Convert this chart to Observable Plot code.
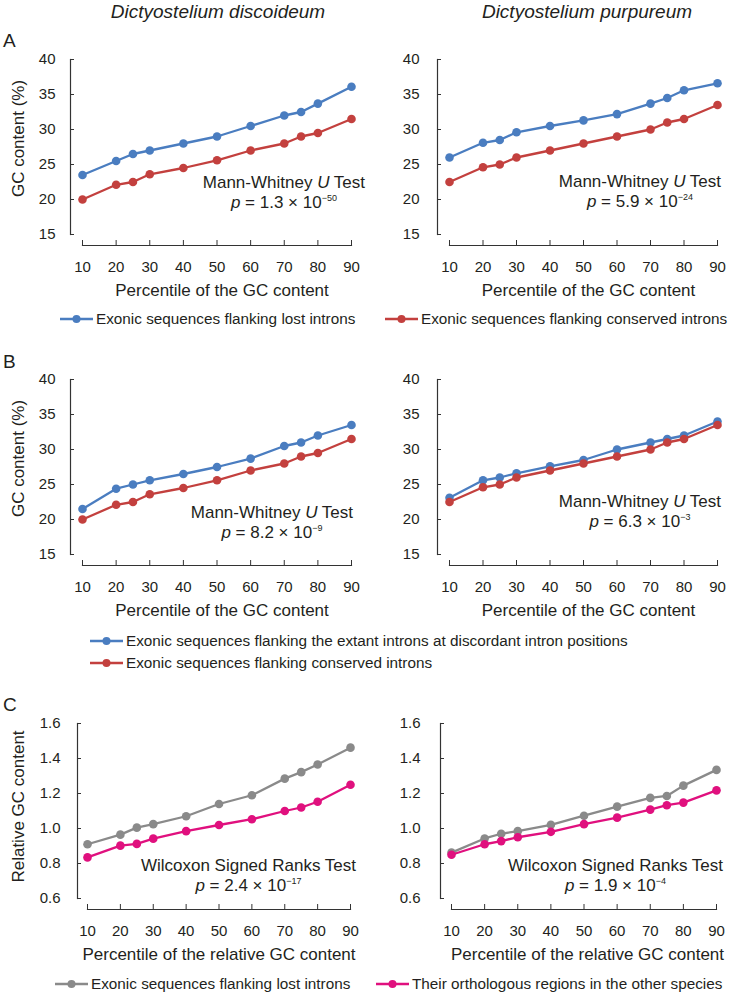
<!DOCTYPE html>
<html>
<head>
<meta charset="utf-8">
<script src="https://cdn.jsdelivr.net/npm/d3@7"></script>
<script src="https://cdn.jsdelivr.net/npm/@observablehq/plot@0.6"></script>
<style>
  html, body { margin: 0; padding: 0; background: #fff; }
  #page { position: relative; width: 732px; height: 992px; overflow: hidden;
          font-family: "Liberation Sans", Arial, sans-serif; color: #231f20; }
  .abs { position: absolute; white-space: nowrap; }
  .title { font-size: 19px; font-style: italic; transform: translate(-50%, -50%); }
  .letter { font-size: 19px; transform: translateY(-50%); }
  .annot { font-size: 17px; line-height: 20px; text-align: center; }
  .annot sup { font-size: 9px; vertical-align: 7px; line-height: 0; }
  .legend { font-size: 15.3px; display: flex; align-items: center; transform: translateY(-50%); }
  .legend svg { margin-right: 2px; }
  .plot { position: absolute; }
</style>
</head>
<body>
<div id="page"></div>
<script>
// ---------- data ----------
const percentiles = [10, 20, 25, 30, 40, 50, 60, 70, 75, 80, 90];
const xTicks = [10, 20, 30, 40, 50, 60, 70, 80, 90];
const gcTicks = [15, 20, 25, 30, 35, 40];
const relTicks = [0.6, 0.8, 1.0, 1.2, 1.4, 1.6];

const speciesTitles = ["Dictyostelium discoideum", "Dictyostelium purpureum"];
const panelLetters = ["A", "B", "C"];

// Panel A: GC content (%) of exonic sequences flanking lost vs conserved introns
const ddLost      = [23.5, 25.5, 26.5, 27.0, 28.0, 29.0, 30.5, 32.0, 32.5, 33.7, 36.1];
const ddConserved = [20.0, 22.1, 22.5, 23.6, 24.5, 25.6, 27.0, 28.0, 29.0, 29.5, 31.5];
const dpLost      = [26.0, 28.1, 28.5, 29.6, 30.5, 31.3, 32.2, 33.7, 34.5, 35.6, 36.6];
const dpConserved = [22.5, 24.6, 25.0, 26.0, 27.0, 28.0, 29.0, 30.0, 31.0, 31.5, 33.5];

// Panel B: extant introns at discordant positions vs conserved introns
const ddDiscordant = [21.5, 24.4, 25.0, 25.6, 26.5, 27.5, 28.7, 30.5, 31.0, 32.0, 33.5];
const dpDiscordant = [23.1, 25.6, 26.0, 26.6, 27.6, 28.5, 30.0, 31.0, 31.5, 32.0, 34.0];

// Panel C: relative GC content, lost introns vs orthologous regions
const ddRelLost  = [0.910, 0.965, 1.005, 1.025, 1.070, 1.140, 1.190, 1.285, 1.322, 1.366, 1.462];
const ddRelOrtho = [0.835, 0.902, 0.912, 0.942, 0.985, 1.020, 1.053, 1.100, 1.120, 1.153, 1.250];
const dpRelLost  = [0.862, 0.943, 0.970, 0.985, 1.021, 1.073, 1.125, 1.175, 1.186, 1.245, 1.335];
const dpRelOrtho = [0.850, 0.910, 0.928, 0.950, 0.981, 1.025, 1.062, 1.108, 1.133, 1.148, 1.218];

const seriesNames = {
  lost: "Exonic sequences flanking lost introns",
  conserved: "Exonic sequences flanking conserved introns",
  discordant: "Exonic sequences flanking the extant introns at discordant intron positions",
  ortho: "Their orthologous regions in the other species"
};
const testLabels = ["Mann-Whitney", "Wilcoxon Signed Ranks Test"];
const pValues = [
  ["1.3", "−50"], ["5.9", "−24"],
  ["8.2", "−9"],  ["6.3", "−3"],
  ["2.4", "−17"], ["1.9", "−4"]
];
const yTitles = ["GC content (%)", "GC content (%)", "Relative GC content"];
const xTitles = ["Percentile of the GC content", "Percentile of the GC content", "Percentile of the relative GC content"];

// ---------- style ----------
const COL = { blue: "#4a7dc0", red: "#c3403e", gray: "#8a8a8a", pink: "#e0107e" };
const INK = "#231f20";
const AXIS = "#333333";
const FONT = "Liberation Sans, Arial, sans-serif";

const page = document.getElementById("page");

function addHTML(cls, html, style) {
  const d = document.createElement("div");
  d.className = "abs " + cls;
  d.innerHTML = html;
  Object.assign(d.style, style);
  page.appendChild(d);
  return d;
}

// ---------- panels ----------
const panels = [
  { left: 0,   top: 40,  ml: 70, inset: 12, mr: 15, yDomain: [15, 40], yTicks: gcTicks, fmt: d3.format("d"),
    row: 0, yTitle: true, labPad: 15, yLabDx: -52, yLabDy: -14, xLabDx: 11,
    series: [[seriesNames.lost, ddLost, COL.blue], [seriesNames.conserved, ddConserved, COL.red]] },
  { left: 366, top: 40,  ml: 71, inset: 12, mr: 15, yDomain: [15, 40], yTicks: gcTicks, fmt: d3.format("d"),
    row: 0, yTitle: false, labPad: 18, xLabDx: 11,
    series: [[seriesNames.lost, dpLost, COL.blue], [seriesNames.conserved, dpConserved, COL.red]] },
  { left: 0,   top: 360, ml: 70, inset: 12, mr: 15, yDomain: [15, 40], yTicks: gcTicks, fmt: d3.format("d"),
    row: 1, yTitle: true, labPad: 15, yLabDx: -52, yLabDy: -14, xLabDx: 11,
    series: [[seriesNames.discordant, ddDiscordant, COL.blue], [seriesNames.conserved, ddConserved, COL.red]] },
  { left: 366, top: 360, ml: 71, inset: 12, mr: 15, yDomain: [15, 40], yTicks: gcTicks, fmt: d3.format("d"),
    row: 1, yTitle: false, labPad: 18, xLabDx: 11,
    series: [[seriesNames.discordant, dpDiscordant, COL.blue], [seriesNames.conserved, dpConserved, COL.red]] },
  { left: 0,   top: 704, ml: 77, inset: 10, mr: 16, yDomain: [0.6, 1.6], yTicks: relTicks, fmt: d3.format(".1f"),
    row: 2, yTitle: true, labPad: 17, yLabDx: -59, yLabDy: -10, xLabDx: 5,
    series: [[seriesNames.lost, ddRelLost, COL.gray], [seriesNames.ortho, ddRelOrtho, COL.pink]] },
  { left: 366, top: 704, ml: 74, inset: 11, mr: 16, yDomain: [0.6, 1.6], yTicks: relTicks, fmt: d3.format(".1f"),
    row: 2, yTitle: false, labPad: 20, xLabDx: 9,
    series: [[seriesNames.lost, dpRelLost, COL.gray], [seriesNames.ortho, dpRelOrtho, COL.pink]] }
];

const W = 366, H = 270, MT = 19, MB = 65, GAP = 11;

panels.forEach((p) => {
  const marks = [
    Plot.frame({ anchor: "left", insetBottom: GAP, stroke: AXIS, strokeWidth: 1.2 }),
    Plot.frame({ anchor: "bottom", insetLeft: p.inset, stroke: AXIS, strokeWidth: 1.2 }),
    Plot.axisY({ ticks: p.yTicks, tickFormat: p.fmt, tickSize: -4, tickPadding: p.labPad + 4,
                 label: null, fontSize: 15, stroke: AXIS }),
    Plot.axisX({ ticks: xTicks, tickFormat: d3.format("d"), tickSize: -5, tickPadding: 21,
                 label: null, fontSize: 15, stroke: AXIS }),
    Plot.text([xTitles[p.row]], { frameAnchor: "bottom", dy: 45, dx: p.xLabDx, lineAnchor: "middle",
                 textAnchor: "middle", fontSize: 17, fill: INK })
  ];
  if (p.yTitle) {
    marks.push(Plot.text([yTitles[p.row]], { frameAnchor: "left", rotate: -90, dx: p.yLabDx, dy: p.yLabDy,
                 lineAnchor: "middle", textAnchor: "middle", fontSize: 17, fill: INK }));
  }
  p.series.forEach(([name, values, color]) => {
    const rows = percentiles.map((pc, i) => ({ percentile: pc, value: values[i], series: name }));
    marks.push(Plot.line(rows, { x: "percentile", y: "value", stroke: color, strokeWidth: 2.3 }));
    marks.push(Plot.dot(rows, { x: "percentile", y: "value", fill: color, r: 4.3, stroke: "none" }));
  });

  const svg = Plot.plot({
    width: W, height: H,
    marginTop: MT, marginBottom: MB, marginLeft: p.ml, marginRight: p.mr,
    style: { fontFamily: FONT, fontSize: "15px", color: INK, background: "transparent", overflow: "visible" },
    x: { type: "linear", domain: [10, 90], insetLeft: p.inset, insetRight: 0 },
    y: { type: "linear", domain: p.yDomain, insetBottom: GAP },
    marks
  });
  svg.classList.add("plot");
  svg.style.left = p.left + "px";
  svg.style.top = p.top + "px";
  page.appendChild(svg);
});

// ---------- titles and panel letters ----------
addHTML("title", speciesTitles[0], { left: "218px", top: "12px" });
addHTML("title", speciesTitles[1], { left: "587px", top: "12px" });
addHTML("letter", panelLetters[0], { left: "3px", top: "41px" });
addHTML("letter", panelLetters[1], { left: "3px", top: "362px" });
addHTML("letter", panelLetters[2], { left: "3px", top: "705px" });

// ---------- statistical annotations ----------
const annots = [
  { right: 365, y: 183, test: 0, p: 0 },
  { right: 721, y: 182, test: 0, p: 1 },
  { right: 353, y: 513, test: 0, p: 2 },
  { right: 721, y: 502, test: 0, p: 3 },
  { right: 356, y: 866, test: 1, p: 4 },
  { right: 723, y: 866, test: 1, p: 5 }
];
annots.forEach((a) => {
  const line1 = a.test === 0 ? `${testLabels[0]} <i>U</i> Test` : testLabels[1];
  const [m, e] = pValues[a.p];
  const line2 = `<i>p</i> = ${m} × 10<sup>${e}</sup>`;
  addHTML("annot", line1 + "<br>" + line2, { right: (732 - a.right) + "px", top: (a.y - 10) + "px" });
});

// ---------- legends ----------
function swatch(color) {
  return `<svg width="34" height="12" viewBox="0 0 34 12"><line x1="0" y1="6" x2="33" y2="6" stroke="${color}" stroke-width="2.3"/><circle cx="16.5" cy="6" r="4" fill="${color}"/></svg>`;
}
function legendItem(x, y, color, label) {
  addHTML("legend", swatch(color) + `<span>${label}</span>`, { left: x + "px", top: y + "px" });
}
legendItem(60, 319, COL.blue, seriesNames.lost);
legendItem(385, 319, COL.red, seriesNames.conserved);
legendItem(90, 641, COL.blue, seriesNames.discordant);
legendItem(90, 663, COL.red, seriesNames.conserved);
legendItem(55, 984, COL.gray, seriesNames.lost);
legendItem(376, 984, COL.pink, seriesNames.ortho);
</script>
</body>
</html>
